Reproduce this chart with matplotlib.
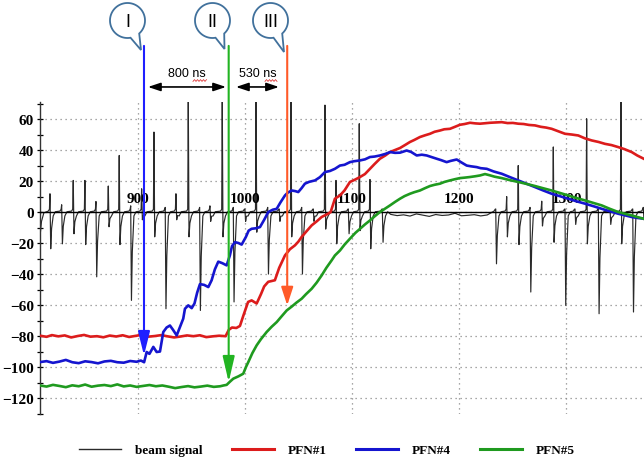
import numpy as np
import matplotlib.pyplot as plt
from matplotlib.lines import Line2D
from matplotlib.patches import PathPatch
from matplotlib.path import Path

plt.rcParams['font.family'] = ['Liberation Serif', 'DejaVu Serif']

# time axis (ns) and value grid
grid_t = [900, 1000, 1100, 1200, 1300]
y_major = [-120, -100, -80, -60, -40, -20, 0, 20, 40, 60]

# PFN#1
pfn1_t = [809, 815, 820, 826, 832, 838, 844, 850, 856, 862, 868, 874, 880, 886, 892, 898, 904, 910,
          916, 922, 928, 934, 940, 946, 952, 958, 964, 970, 976, 982, 985, 988, 992, 995.4, 998.5,
          1003, 1006.3, 1011, 1015, 1018, 1021.8, 1025, 1028, 1032, 1037.4, 1042, 1046.7, 1050,
          1053, 1058, 1062.3, 1067, 1071.6, 1075, 1077.8, 1080, 1084, 1088.7, 1093, 1098, 1103,
          1107.4, 1112, 1116.7, 1121, 1126, 1131, 1135.4, 1140, 1144.7, 1150, 1154, 1158, 1163.3,
          1168, 1172.7, 1177, 1182, 1186, 1191.3, 1196, 1200.6, 1205, 1210, 1215, 1219.3, 1224,
          1228.7, 1234, 1239.6, 1245, 1250, 1255, 1260, 1265, 1270.6, 1276, 1281, 1286.2, 1292,
          1298.6, 1305, 1311, 1317, 1323.5, 1330, 1335.9, 1342, 1348.3, 1354, 1360.8, 1366, 1372]
pfn1_v = [-79.8, -80.5, -79.4, -80.2, -79.6, -80.9, -80.0, -79.3, -80.4, -80.1, -80.8, -79.7, -80.3,
          -79.5, -80.6, -79.9, -79.2, -80.4, -80.0, -79.4, -80.2, -80.9, -80.3, -79.6, -80.1, -79.5,
          -80.7, -80.2, -79.8, -80.1, -76, -74.5, -74.8, -73.5, -67, -58, -57, -59, -53, -48, -45,
          -44.5, -44, -36, -28, -24, -21.5, -19, -16, -12, -8.6, -6, -3.2, -2, -1, 0, 8.6, 10.7,
          14, 19.4, 21, 22.6, 24.5, 27.9, 31, 34.4, 36.5, 38.7, 40, 41.3, 43.5, 45.2, 46.5, 48.4,
          49.5, 50.5, 51.8, 52.6, 53.4, 53.7, 55, 56.3, 56.8, 57.6, 57.2, 57, 57.3, 57.6, 57.8, 58,
          57.4, 57.5, 57, 56.8, 56.2, 55.9, 55, 54.5, 53.7, 52.2, 50.5, 50, 49.4, 47.6, 46.2, 45.2,
          44, 43.2, 41.9, 40.6, 38.7, 36.5, 34.4]

# PFN#4
pfn4_t = [809, 815, 821, 827, 833, 839, 845, 851, 857, 863, 869, 875, 881, 887, 893, 899, 903, 906,
          908.4, 911, 914.6, 917.7, 920.8, 923.9, 927, 930.1, 933, 936.4, 939, 942.5, 944.1, 947.2,
          950.4, 953, 955.5, 958.1, 962, 965.9, 969, 972, 975.2, 979, 983, 986, 988, 990.8, 994,
          997, 1001, 1003.5, 1006.3, 1010, 1014.1, 1018, 1021.8, 1026, 1029.7, 1033, 1037.4, 1040,
          1043.7, 1047, 1049.8, 1053, 1056, 1060, 1065.4, 1070, 1074.7, 1079.4, 1084, 1088.7, 1093,
          1098, 1102, 1107.4, 1112, 1116.7, 1121, 1126, 1131, 1135.4, 1140, 1144.7, 1150.9, 1155,
          1160.3, 1165, 1169.6, 1174, 1178.9, 1183, 1188.2, 1192, 1197.6, 1202, 1206.9, 1211,
          1216.2, 1220, 1225.6, 1232, 1239.6, 1247, 1255, 1263, 1270.6, 1278, 1286.2, 1294, 1301.7,
          1309, 1317.3, 1325, 1332.8, 1340, 1348.3, 1355, 1360.8, 1366, 1372]
pfn4_v = [-96.8, -96.2, -97.3, -96.5, -95.4, -96.9, -97.5, -96.3, -96.8, -97.6, -96.4, -96.0, -96.9,
          -97.2, -96.1, -96.6, -95.8, -96.9, -90.3, -91.5, -87, -90.3, -90, -77.4, -74.5, -73.2, -76,
          -79.6, -75, -68.8, -62.4, -60.2, -62, -59, -52, -46.5, -47, -48.4, -44, -37, -32, -33,
          -34.4, -28, -22, -19.4, -20, -21, -16, -12, -10.8, -10.5, -9.7, -5, 0, 1.5, 2.1, 6, 10.7,
          12.5, 13.9, 13.5, 12.9, 15.5, 18.3, 19.5, 20.4, 22.5, 25.8, 26.5, 27.9, 30, 30.5, 32.2,
          32.8, 33.3, 34, 35.5, 35.8, 36.5, 37.5, 38.7, 38.2, 38.3, 39.7, 38.8, 36.5, 37, 36.5,
          35.5, 34.4, 33.5, 32.2, 33, 33.9, 32, 30, 29.5, 29, 28.3, 27.9, 26.2, 24.7, 22.6, 20.4,
          18.2, 16.1, 14, 11.8, 10.2, 8.6, 7, 5.4, 3.8, 2.1, 0.6, -1.1, -2.2, -3.2, -3.8, -4.3]

# PFN#5
pfn5_t = [809, 815, 821, 827, 833, 839, 845, 851, 857, 863, 869, 875, 881, 887, 893, 899, 905, 911,
          917, 923, 929, 935, 941, 947, 953, 959, 965, 971, 977, 980, 983, 986, 989.2, 994, 998.5,
          1001, 1003.2, 1007, 1011, 1015, 1020.3, 1025, 1029.7, 1034, 1039, 1043.7, 1048, 1053,
          1057, 1062.3, 1067, 1071.6, 1076, 1080.9, 1084, 1088.7, 1093, 1098, 1103, 1107.4, 1112,
          1116.7, 1121, 1126, 1131, 1135.4, 1140, 1144.7, 1149, 1154, 1158, 1163.3, 1168, 1172.7,
          1177, 1182, 1186, 1191.3, 1196, 1200.6, 1205, 1210, 1215, 1219.3, 1224, 1228, 1233,
          1239.6, 1247, 1255, 1263, 1270.6, 1278, 1286.2, 1294, 1301.7, 1309, 1317.3, 1325, 1332.8,
          1340, 1348.3, 1355, 1360.8, 1366, 1372]
pfn5_v = [-111.9, -112.6, -111.5, -112.2, -113.0, -111.8, -112.4, -111.3, -112.7, -112.0, -111.6,
          -112.3, -111.2, -112.5, -111.9, -112.8, -112.2, -111.6, -112.4, -111.9, -112.7, -113.6,
          -112.9, -112.3, -113.1, -112.6, -112.0, -112.8, -112.4, -111.9, -111.5, -109.5, -107.5,
          -106, -104.3, -100, -96.8, -91, -86, -82, -77.4, -74, -71, -67.5, -63.5, -61, -58.5,
          -55.9, -53, -49.5, -45.5, -40.9, -36, -31.2, -28, -24.8, -21, -17.2, -13.5, -10.8, -8,
          -5.4, -2.8, 0, 2.3, 4.3, 6.5, 8.6, 10.3, 11.8, 12.8, 13.9, 15.4, 16.8, 17.6, 18.3, 19.4,
          20.4, 21.2, 21.9, 22.2, 22.6, 23.1, 23.6, 24.5, 23.8, 22.8, 21.9, 20.6, 19.4, 18.1, 16.8,
          15.4, 13.9, 12.3, 10.7, 9.1, 7.5, 5.9, 4.3, 2.2, 0, -1.2, -2.2, -3.2, -4.3]

# beam signal: bunch passages (time, positive peak, negative peak)
pulse_t = [818.2, 829.1, 839.9, 850.8, 861.1, 872.6, 882.8, 893.5, 903.7, 915.2, 925.7, 935.7,
           947.2, 957.8, 967.4, 978.9, 989.2, 1000.0, 1010.4, 1021.3, 1032.0, 1043.0, 1053.0,
           1063.8, 1074.7, 1085.0, 1096.5, 1106.7, 1116.7, 1128.2, 1234.0, 1244.2, 1255.0,
           1266.0, 1276.9, 1287.7, 1298.6, 1307.9, 1318.8, 1329.7, 1340.6, 1350.8, 1361.8, 1371.6]
pulse_up = [11.8, 4.7, 20.4, 20.4, 6.8, 16.8, 36.5, 4, 15, 51.6, 3, 11.8, 73, 3, 4, 73, 3, 2, 73,
            3, 2, 73, 3, 2, 69, 20.4, 2, 57, 21, 2, 2, 10, 30, 3, 7, 42, 2, 2, 60.2, 2, 2, 73, 2, 3]
pulse_down = [-23.7, -20.5, -14, -21, -41.8, -9.5, -21, -57, -5, -16, -62.4, -5, -16, -63.5, -6,
              -16, -58, -6, -13, -40, -6, -16, -40, -6, -11, -20.5, -14, -12, -23.7, -19.5, -33.4,
              -16, -21, -51.6, -9, -19.5, -60.2, -8, -20.5, -65.6, -8, -20.5, -64.5, -5]
# quiet stretch without bunches
quiet_t = [1136, 1142, 1148, 1154, 1160, 1166, 1172, 1178, 1184, 1190, 1196, 1202, 1208, 1214,
           1220, 1226]
quiet_v = [-1.5, -2.3, -1.8, -2.6, -1.2, -2.0, -2.8, -1.6, -2.2, -1.9, -0.8, -2.4, -2.1, -1.7,
           -2.5, -1.9]

# trigger markers and delays
marker_labels = ['I', 'II', 'III']
marker_t = [905.9, 984.9, 1039.5]
marker_tip = [-92.5, -109.7, -60.2]
marker_colors = ['#1f1fff', '#22b422', '#ff5a28']
marker_head = [1.45, 1.55, 1.1]
gap_labels = ['800 ns', '530 ns']
gap_from = [909.6, 991.7]
gap_to = [982.4, 1031.8]

fig = plt.figure(figsize=(6.44, 4.6), dpi=100)
ax = fig.add_axes([40 / 644, 45 / 460, 604 / 644, 312 / 460])
ax.set_xlim(808.9, 1372.3)
ax.set_ylim(-130.3, 71)

# beam signal polyline
bt = [809.0, 810.3, 812.5]
bv = [-15.0, -6.0, -0.5]
for t, up, dn in zip(pulse_t, pulse_up, pulse_down):
    if t > 1200 and bt[-1] < 1200:
        bt += quiet_t
        bv += quiet_v
    bt += [t - 1.6, t - 0.5, t, t + 0.7, t + 1.5, t + 3.0, t + 5.0]
    bv += [0.6, 1.8, up, dn, dn * 0.45, -2.5, 0.2]
ax.plot(bt, bv, color='#2a2a2a', lw=0.85, zorder=2)

ax.plot(pfn1_t, pfn1_v, color='#dc1c1c', lw=1.9, zorder=3)
ax.plot(pfn4_t, pfn4_v, color='#1515cf', lw=1.9, zorder=3)
ax.plot(pfn5_t, pfn5_v, color='#1f9a1f', lw=1.9, zorder=3)

# axes styling
for s in ['top', 'right']:
    ax.spines[s].set_visible(False)
ax.spines['bottom'].set_position(('data', 0))
ax.spines['bottom'].set_linewidth(1.0)
ax.spines['left'].set_linewidth(1.0)
ax.spines['left'].set_color('#333333')
ax.set_xticks(grid_t)
ax.set_xticklabels([])
ax.tick_params(axis='x', length=0)
ax.set_yticks(y_major)
ax.set_yticks(np.arange(-130, 71, 10), minor=True)
ax.tick_params(axis='y', which='both', direction='inout', length=5, width=0.9, pad=2)
for lab in ax.get_yticklabels():
    lab.set_fontweight('bold')
    lab.set_fontsize(11)
ax.grid(True, which='major', color='#8a8a8a', lw=0.9, linestyle=(0, (1, 3)), zorder=0)
ax.set_axisbelow(True)

for t in grid_t:
    ax.text(t, 8.8, str(t), ha='center', va='center', fontsize=11, fontweight='bold',
            zorder=2.5)

# marker arrows above the plot
for t, tip, c, hl in zip(marker_t, marker_tip, marker_colors, marker_head):
    ax.annotate('', xy=(t, tip), xytext=(t, 107.2), annotation_clip=False,
                arrowprops=dict(arrowstyle='-|>,head_length=%.2f,head_width=0.36' % hl,
                                color=c, lw=1.5, shrinkA=0, shrinkB=0, mutation_scale=10),
                zorder=6)

for lab, t0, t1 in zip(gap_labels, gap_from, gap_to):
    ax.annotate('', xy=(t1, 80.7), xytext=(t0, 80.7), annotation_clip=False,
                arrowprops=dict(arrowstyle='<|-|>,head_length=0.75,head_width=0.25',
                                color='black', lw=1.2, shrinkA=0, shrinkB=0, mutation_scale=10),
                zorder=6)
    ax.text((t0 + t1) / 2, 89.5, lab, ha='center', va='center', fontsize=9,
            family='Liberation Sans', clip_on=False)

# callout balloons, drawn in pixel coordinates
ov = fig.add_axes([0, 0, 1, 1], zorder=5)
ov.set_xlim(0, 644)
ov.set_ylim(460, 0)
ov.axis('off')
ov.patch.set_alpha(0)

balloon_cx = [127.5, 212.5, 270.5]
balloon_tip = [(141, 51), (224.5, 50), (284, 53)]
r = 17.5
for cx, tipxy, lab in zip(balloon_cx, balloon_tip, marker_labels):
    cy = 21.5
    ang = np.linspace(np.radians(80), np.radians(48) + 2 * np.pi, 90)
    pts = [(cx + r * np.cos(a), cy + r * np.sin(a)) for a in ang]
    pts += [tipxy, pts[0]]
    codes = [Path.MOVETO] + [Path.LINETO] * (len(pts) - 2) + [Path.CLOSEPOLY]
    ov.add_patch(PathPatch(Path(pts, codes), facecolor='white', edgecolor='#41719c', lw=1.3))
    ov.text(cx, cy + 1, lab, ha='center', va='center', fontsize=13, family='Liberation Sans')

# spell-check squiggles under "ns"
for x0, x1 in [(193, 207), (265, 278)]:
    xs = np.arange(x0, x1 + 0.1, 1.5)
    ys = 81.5 + 0.9 * (-1) ** np.arange(len(xs))
    ov.plot(xs, ys, color='#e03a3a', lw=0.6)

handles = [Line2D([], [], color='#2a2a2a', lw=1.0),
           Line2D([], [], color='#dc1c1c', lw=2.2),
           Line2D([], [], color='#1515cf', lw=2.2),
           Line2D([], [], color='#1f9a1f', lw=2.2)]
fig.legend(handles, ['beam signal', 'PFN#1', 'PFN#4', 'PFN#5'], loc='center',
           bbox_to_anchor=(327 / 644, 1 - 451 / 460), ncol=4, frameon=False,
           handlelength=3.2, handletextpad=1.05, columnspacing=2.2,
           prop={'family': 'Liberation Serif', 'weight': 'bold', 'size': 9.5})

fig.savefig('out.png', dpi=100)
